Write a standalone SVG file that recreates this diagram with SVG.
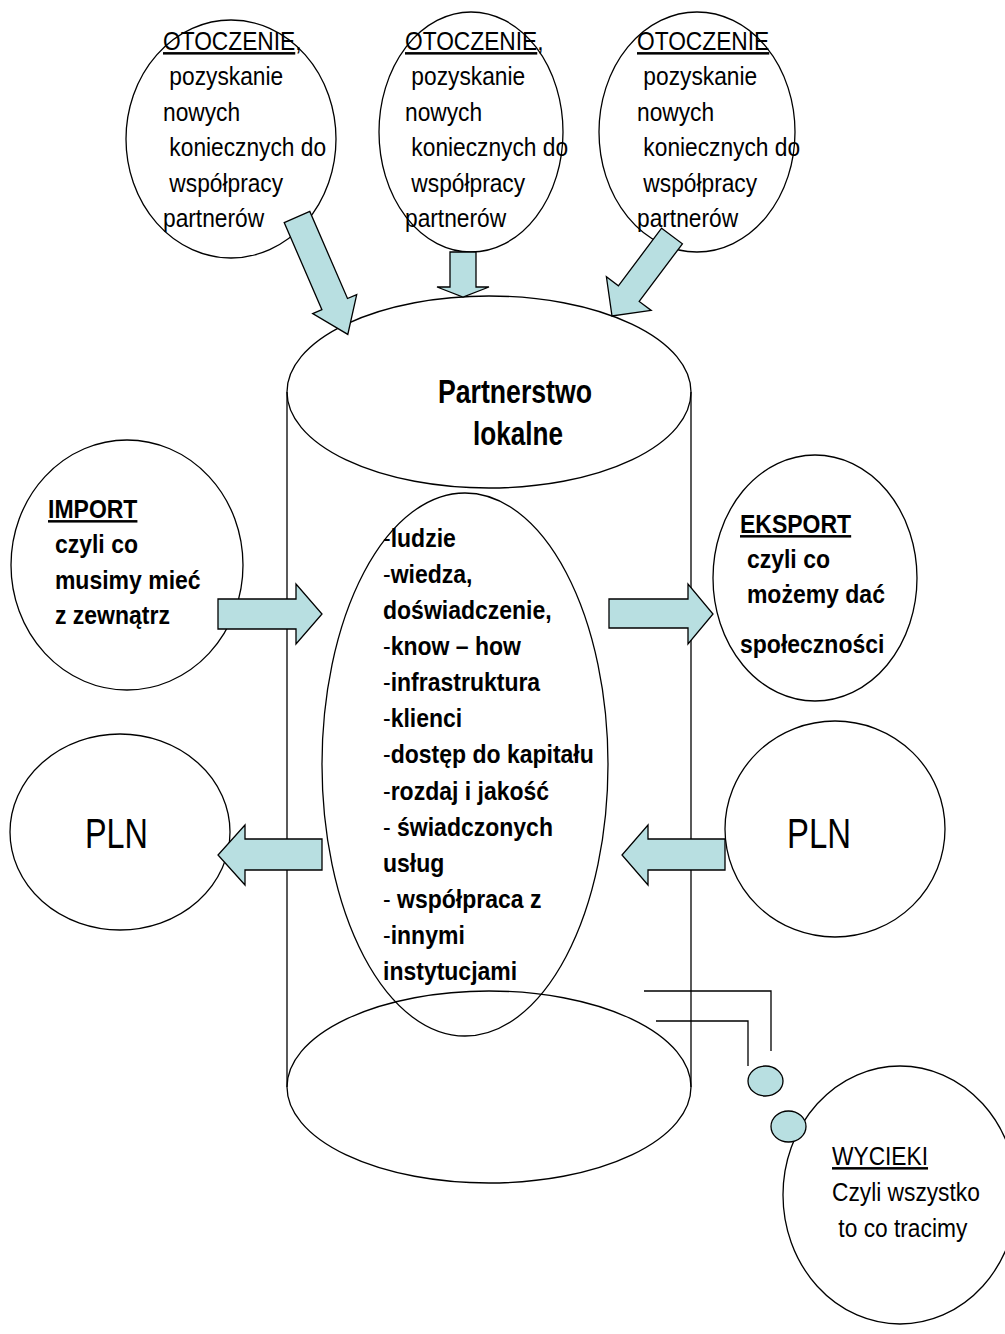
<svg xmlns="http://www.w3.org/2000/svg" width="1005" height="1334" viewBox="0 0 1005 1334">
<style>
.ln{fill:none;stroke:#000;stroke-width:1.3}
.ar{fill:#b8dfe1;stroke:#000;stroke-width:1.3;stroke-linejoin:miter}
.bub{fill:#b8dfe1;stroke:#000;stroke-width:1.3}
.t{font-family:"Liberation Sans",Arial,sans-serif;font-size:25px;fill:#000}
.b{font-weight:bold}
.n{font-weight:normal}
.u{text-decoration:underline}
</style>
<rect width="1005" height="1334" fill="#fff"/>

<g id="otoczenie1">
<ellipse class="ln" cx="231" cy="139" rx="105" ry="119"/>
<text class="t" transform="translate(163,0) scale(0.91,1)">
<tspan x="0" y="50"><tspan class="u">OTOCZENIE</tspan>,</tspan>
<tspan x="7" y="85.5">pozyskanie</tspan>
<tspan x="0" y="121">nowych</tspan>
<tspan x="7" y="156.5">koniecznych do</tspan>
<tspan x="7" y="192">współpracy</tspan>
<tspan x="0" y="227.5">partnerów</tspan>
</text>
</g>

<g id="otoczenie2">
<ellipse class="ln" cx="471" cy="132" rx="92" ry="120"/>
<text class="t" transform="translate(405,0) scale(0.91,1)">
<tspan x="0" y="50"><tspan class="u">OTOCZENIE</tspan>,</tspan>
<tspan x="7" y="85.5">pozyskanie</tspan>
<tspan x="0" y="121">nowych</tspan>
<tspan x="7" y="156.5">koniecznych do</tspan>
<tspan x="7" y="192">współpracy</tspan>
<tspan x="0" y="227.5">partnerów</tspan>
</text>
</g>

<g id="otoczenie3">
<ellipse class="ln" cx="697" cy="132" rx="98" ry="120"/>
<text class="t" transform="translate(637,0) scale(0.91,1)">
<tspan x="0" y="50" class="u">OTOCZENIE</tspan>
<tspan x="7" y="85.5">pozyskanie</tspan>
<tspan x="0" y="121">nowych</tspan>
<tspan x="7" y="156.5">koniecznych do</tspan>
<tspan x="7" y="192">współpracy</tspan>
<tspan x="0" y="227.5">partnerów</tspan>
</text>
</g>

<g id="partnerstwo">
<line class="ln" x1="287" y1="392" x2="287" y2="1087"/>
<line class="ln" x1="691" y1="392" x2="691" y2="1087"/>
<ellipse class="ln" cx="489" cy="392" rx="202" ry="96"/>
<ellipse class="ln" cx="489" cy="1087" rx="202" ry="96"/>
<text class="t b" font-size="33" style="font-size:33px" x="438" y="403" textLength="154" lengthAdjust="spacingAndGlyphs">Partnerstwo</text>
<text class="t b" style="font-size:33px" x="473" y="445" textLength="90" lengthAdjust="spacingAndGlyphs">lokalne</text>
</g>

<g id="zasoby">
<ellipse class="ln" cx="465" cy="764.5" rx="143" ry="271.5"/>
<text class="t b" transform="translate(383,0) scale(0.92,1)">
<tspan x="0" y="547"><tspan class="n">-</tspan>ludzie</tspan>
<tspan x="0" y="583"><tspan class="n">-</tspan>wiedza,</tspan>
<tspan x="0" y="619">doświadczenie,</tspan>
<tspan x="0" y="655"><tspan class="n">-</tspan>know – how</tspan>
<tspan x="0" y="691"><tspan class="n">-</tspan>infrastruktura</tspan>
<tspan x="0" y="727"><tspan class="n">-</tspan>klienci</tspan>
<tspan x="0" y="763"><tspan class="n">-</tspan>dostęp do kapitału</tspan>
<tspan x="0" y="800"><tspan class="n">-</tspan>rozdaj i jakość</tspan>
<tspan x="0" y="836"><tspan class="n">-</tspan> świadczonych</tspan>
<tspan x="0" y="872">usług</tspan>
<tspan x="0" y="908"><tspan class="n">-</tspan> współpraca z</tspan>
<tspan x="0" y="944"><tspan class="n">-</tspan>innymi</tspan>
<tspan x="0" y="980">instytucjami</tspan>
</text>
</g>

<g id="import">
<ellipse class="ln" cx="127" cy="565" rx="116" ry="125"/>
<text class="t b" transform="translate(48,0) scale(0.92,1)">
<tspan x="0" y="518" class="u">IMPORT</tspan>
<tspan x="7.5" y="553">czyli co</tspan>
<tspan x="7.5" y="589">musimy mieć</tspan>
<tspan x="7.5" y="624">z zewnątrz</tspan>
</text>
</g>

<g id="eksport">
<ellipse class="ln" cx="815" cy="578" rx="102" ry="123"/>
<text class="t b" transform="translate(740,0) scale(0.92,1)">
<tspan x="0" y="533" class="u">EKSPORT</tspan>
<tspan x="7.5" y="568">czyli co</tspan>
<tspan x="7.5" y="603">możemy dać</tspan>
<tspan x="0" y="653">społeczności</tspan>
</text>
</g>

<g id="pln-lewy">
<ellipse class="ln" cx="120" cy="832" rx="110" ry="98"/>
<text class="t" style="font-size:43px" x="85" y="848" textLength="63" lengthAdjust="spacingAndGlyphs">PLN</text>
</g>

<g id="pln-prawy">
<ellipse class="ln" cx="835" cy="829" rx="110" ry="108"/>
<text class="t" style="font-size:43px" x="787" y="848" textLength="64" lengthAdjust="spacingAndGlyphs">PLN</text>
</g>

<g id="wycieki">
<ellipse class="ln" cx="900" cy="1195" rx="117" ry="129"/>
<text class="t" transform="translate(832,0) scale(0.91,1)">
<tspan x="0" y="1165" class="u">WYCIEKI</tspan>
<tspan x="0" y="1201">Czyli wszystko</tspan>
<tspan x="7" y="1237">to co tracimy</tspan>
</text>
</g>

<g id="connectors">
<polygon class="ar" points="284.2,222.6 309.8,211.4 347.5,298.5 356.7,294.6 347.8,334.4 312.7,313.6 321.9,309.7"/>
<polygon class="ar" points="450,252 476,252 476,287 489,287 463,297 437,287 450,287"/>
<polygon class="ar" points="661.6,228.2 682.4,243.8 639.2,301.4 651.2,310.4 612,316 606.4,276.8 618.4,285.8"/>
<polygon class="ar" points="218,599 296,599 296,584 322,614 296,644 296,629 218,629"/>
<polygon class="ar" points="609,599 688,599 688,584 713,614 688,644 688,628 609,628"/>
<polygon class="ar" points="322,839 245,839 245,825 218,855 245,885 245,870 322,870"/>
<polygon class="ar" points="725,839 648,839 648,825 622,855 648,885 648,870 725,870"/>
<polyline class="ln" points="644,991 771,991 771,1051"/>
<polyline class="ln" points="656,1021 748,1021 748,1066"/>
<ellipse class="bub" cx="765.5" cy="1081" rx="17.5" ry="15"/>
<ellipse class="bub" cx="788.5" cy="1126.5" rx="17.5" ry="15.5"/>
</g>
</svg>
